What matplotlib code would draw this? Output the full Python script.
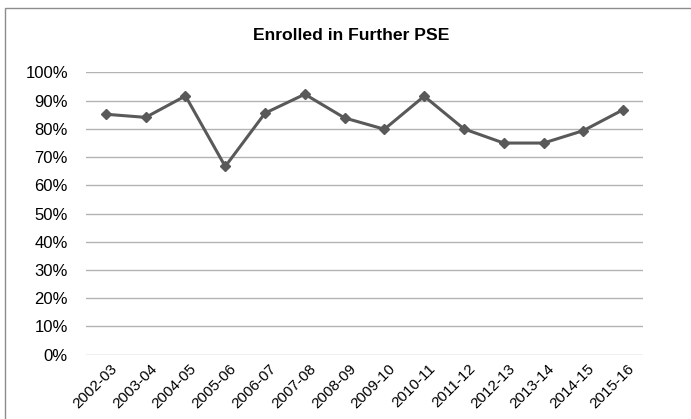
import matplotlib
matplotlib.use("Agg")
import matplotlib.pyplot as plt
from matplotlib.patches import Rectangle
from matplotlib.ticker import PercentFormatter
from matplotlib.transforms import ScaledTranslation

years = ["2002-03", "2003-04", "2004-05", "2005-06", "2006-07", "2007-08", "2008-09",
         "2009-10", "2010-11", "2011-12", "2012-13", "2013-14", "2014-15", "2015-16"]
enrolled_pct = [85.2, 84.1, 91.7, 66.7, 85.6, 92.3, 83.9, 79.9, 91.6, 80.0, 75.0, 75.0, 79.4, 86.8]
y_ticks = [0, 10, 20, 30, 40, 50, 60, 70, 80, 90, 100]
title = "Enrolled in Further PSE"

W, H = 691, 419
fig = plt.figure(figsize=(W / 100, H / 100), dpi=100)
plt.rcParams["font.family"] = ["Liberation Sans", "DejaVu Sans"]

# chart-area frame (left and top edges visible)
fig.patches.append(Rectangle((4.5 / W, -0.2), 1.5, 1.2 - 8.5 / H,
                             transform=fig.transFigure, fill=False,
                             edgecolor="#8c8c8c", linewidth=1.0))

ax = fig.add_axes([86 / W, 1 - 354.7 / H, (643 - 86) / W, (354.7 - 72.5) / H])
x = list(range(len(years)))
ax.plot(x, enrolled_pct, color="#595959", linewidth=2.2, marker="D",
        markersize=5.5, markerfacecolor="#595959", markeredgecolor="#595959",
        zorder=3, clip_on=False)

ax.set_xlim(-0.5, len(years) - 0.5)
ax.set_ylim(0, 100)
ax.set_yticks(y_ticks)
ax.yaxis.set_major_formatter(PercentFormatter(decimals=0))
ax.set_xticks(x)
ax.set_xticklabels(years, rotation=45, ha="right", rotation_mode="anchor")
ax.grid(axis="y", color="#b3b3b3", linewidth=1.0)
ax.set_axisbelow(True)
for s in ax.spines.values():
    s.set_visible(False)
ax.tick_params(axis="both", length=0, colors="#000000")
ax.tick_params(axis="y", pad=13, labelsize=12)
ax.tick_params(axis="x", pad=5, labelsize=11)
shift = ScaledTranslation(4 / 100, 0, fig.dpi_scale_trans)
for lbl in ax.get_xticklabels():
    lbl.set_transform(lbl.get_transform() + shift)

fig.text(351 / W, 1 - 36 / H, title, ha="center", va="center",
         fontsize=12.6, fontweight="bold", color="#000000")

fig.savefig("out.png", dpi=100, facecolor="white")
